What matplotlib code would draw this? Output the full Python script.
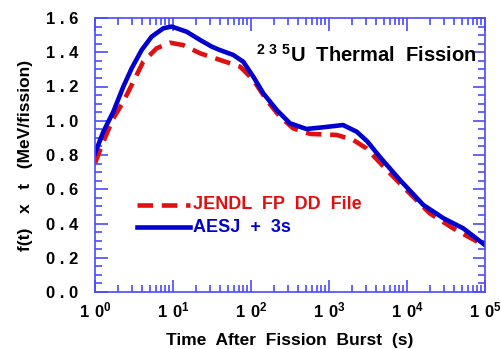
import numpy as np
import matplotlib
matplotlib.use("Agg")
import matplotlib.pyplot as plt
from matplotlib.ticker import LogLocator, NullFormatter

plt.rcParams['font.family'] = 'Liberation Sans'
plt.rcParams['font.weight'] = 'bold'
plt.rcParams['mathtext.fontset'] = 'custom'
plt.rcParams['mathtext.rm'] = 'Liberation Sans:bold'
plt.rcParams['mathtext.bf'] = 'Liberation Sans:bold'

# AESJ + 3s (solid blue), log10(t) vs f(t)*t
aesj_logt = [0.0, 0.107, 0.235, 0.363, 0.47, 0.598, 0.726, 0.876, 0.983, 1.175,
             1.346, 1.496, 1.60, 1.773, 1.90, 2.03, 2.158, 2.33, 2.5, 2.71, 2.93,
             3.18, 3.355, 3.49, 3.65, 3.91, 4.21, 4.47, 4.72, 5.0]
aesj_val = [0.81, 0.936, 1.053, 1.199, 1.306, 1.413, 1.491, 1.54, 1.55, 1.52,
            1.472, 1.433, 1.413, 1.384, 1.345, 1.257, 1.16, 1.063, 0.985, 0.952,
            0.962, 0.975, 0.936, 0.88, 0.79, 0.654, 0.508, 0.43, 0.372, 0.274]

# JENDL FP DD File (dashed red)
jendl_logt = [0.0, 0.107, 0.235, 0.363, 0.491, 0.619, 0.79, 0.96, 1.13, 1.346,
              1.538, 1.86, 2.03, 2.2, 2.37, 2.54, 2.76, 3.1, 3.31, 3.48, 3.70,
              3.99, 4.29, 4.59, 4.94, 5.0]
jendl_val = [0.752, 0.878, 1.014, 1.111, 1.228, 1.345, 1.423, 1.456, 1.442, 1.394,
             1.365, 1.316, 1.238, 1.121, 1.024, 0.956, 0.923, 0.917, 0.888, 0.839,
             0.732, 0.596, 0.46, 0.372, 0.284, 0.27]

yticks = [0.0, 0.2, 0.4, 0.6, 0.8, 1.0, 1.2, 1.4, 1.6]

red = '#e01010'
blue = '#0000d0'

fig = plt.figure(figsize=(5.02, 3.49), dpi=100)
ax = fig.add_axes([95 / 502, 1 - 292 / 349, 390 / 502, 274 / 349])

ax.plot(10 ** np.array(jendl_logt), jendl_val, color=red, lw=3.3,
        dashes=(3.4, 1.9))
ax.plot(10 ** np.array(aesj_logt), aesj_val, color=blue, lw=3.3,
        solid_joinstyle='round')

ax.set_xscale('log')
ax.set_xlim(1, 1e5)
ax.set_ylim(0, 1.6)

axcol = '#4a4aff'
for s in ax.spines.values():
    s.set_color(axcol)
    s.set_linewidth(1.2)
ax.set_yticks(yticks)
ax.set_yticks(np.arange(0, 1.6001, 0.05), minor=True)
ax.set_yticklabels([' . '.join(f'{v:.1f}'.split('.')) for v in yticks],
                   fontsize=12, fontweight='bold')
xt = [1, 10, 100, 1e3, 1e4, 1e5]
ax.set_xticks(xt)
ax.set_xticklabels([r'$\mathregular{1\ 0^{%d}}$' % i for i in range(6)],
                   fontsize=12)
ax.xaxis.set_minor_locator(LogLocator(base=10, subs=np.arange(2, 10), numticks=20))
ax.xaxis.set_minor_formatter(NullFormatter())
ax.tick_params(which='both', direction='in', color=axcol, top=True, right=True)
ax.tick_params(which='major', length=9, width=1.2)
ax.tick_params(which='minor', length=5, width=1.2)
ax.tick_params(axis='y', pad=12)
ax.tick_params(axis='x', pad=6)

ax.set_xlabel('Time  After  Fission  Burst  (s)', fontsize=12.5,
              fontweight='bold', labelpad=9)
ax.set_ylabel('f(t)   x   t   (MeV/fission)', fontsize=12.5, fontweight='bold',
              labelpad=9)

ax.text(0.978, 0.865, r'$\mathregular{^{2\ 3\ 5}U}$  Thermal  Fission',
        transform=ax.transAxes, ha='right', va='center', fontsize=14.5,
        fontweight='bold')

# legend drawn by hand
ax.plot([0.107, 0.244], [0.318, 0.318], transform=ax.transAxes,
        color=red, lw=3.3, dashes=(3.4, 1.9))
ax.plot([0.107, 0.244], [0.237, 0.237], transform=ax.transAxes,
        color=blue, lw=3.3)
ax.text(0.252, 0.318, 'JENDL  FP  DD  File', transform=ax.transAxes,
        color=red, fontsize=13, fontweight='bold', va='center')
ax.text(0.252, 0.237, 'AESJ  +  3s', transform=ax.transAxes,
        color=blue, fontsize=13, fontweight='bold', va='center')

fig.savefig('out.png', dpi=100)
